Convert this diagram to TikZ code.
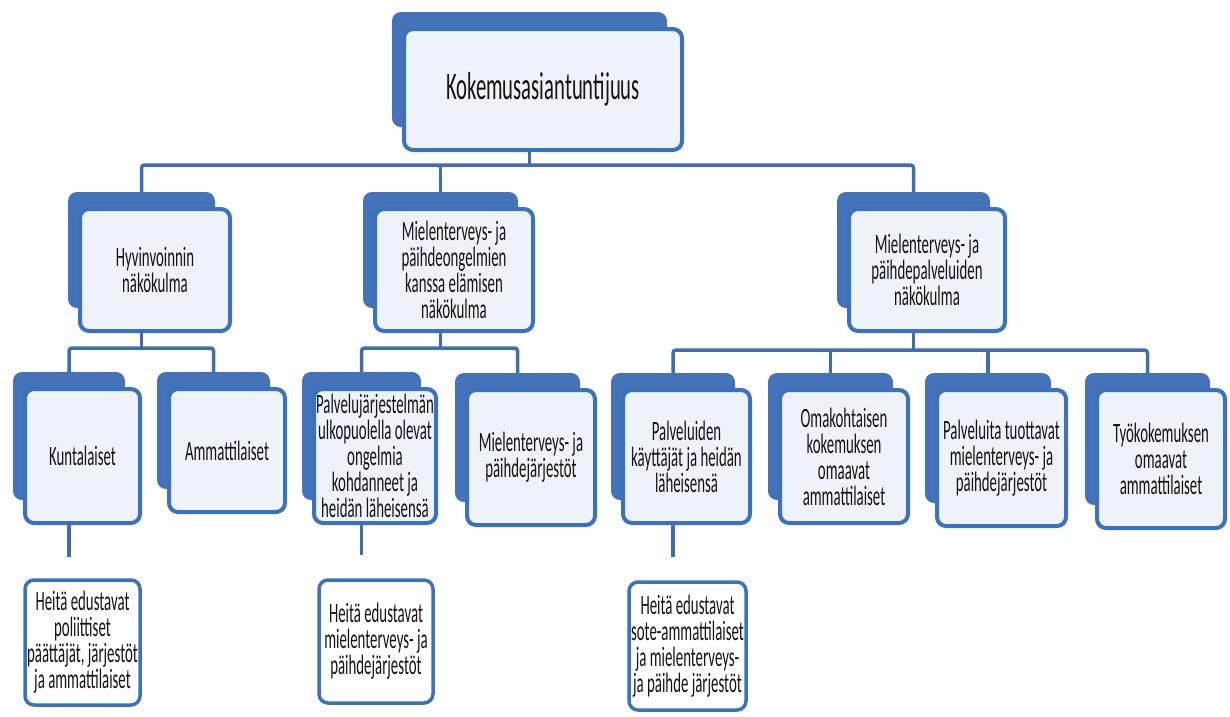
\documentclass[tikz,border=0pt]{standalone}
\usepackage{fontspec}
\setmainfont{Carlito}[FakeStretch=0.53]
\usetikzlibrary{calc,fit,backgrounds}
\definecolor{backblue}{HTML}{4473BA}
\definecolor{edgeblue}{HTML}{3B72BD}
\definecolor{facefill}{HTML}{EEF3FA}
\definecolor{linkblue}{HTML}{3F6DAF}
\definecolor{inkgray}{HTML}{141414}
\tikzset{
  card/.style={draw=edgeblue, line width=4pt, fill=facefill, rounded corners=9pt,
    align=center, inner sep=2pt, outer sep=0pt, text=inkgray,
    font=\fontsize{28}{26}\selectfont},
  leaf/.style={card, fill=white, line width=3.5pt},
  tab/.style={fill=backblue, rounded corners=9pt, inner sep=0pt, outer sep=0pt, draw=none},
  link/.style={draw=linkblue, line width=3.5pt, rounded corners=3pt},
}
\begin{document}
\begin{tikzpicture}[x=1pt, y=-1pt]
\useasboundingbox (0,0) rectangle (1230,716);

% front cards
\node[card, minimum width=278, minimum height=121, font=\fontsize{39}{40}\selectfont]
  (top) at (543,89.5) {Kokemusasiantuntijuus};

\node[card, minimum width=150, minimum height=122] (h) at (155,270) {Hyvinvoinnin\\näkökulma};
\node[card, minimum width=158, minimum height=122] (m) at (454,270)
  {Mielenterveys- ja\\päihdeongelmien\\kanssa elämisen\\näkökulma};
\node[card, minimum width=156, minimum height=122] (r) at (927,270)
  {Mielenterveys- ja\\päihdepalveluiden\\näkökulma};

\node[card, minimum width=115, minimum height=134] (k) at (82.5,456) {Kuntalaiset};
\node[card, minimum width=116, minimum height=123] (a) at (227,450.5) {Ammattilaiset};
\node[card, minimum width=122, minimum height=134] (pj) at (375,456)
  {Palvelujärjestelmän\\ulkopuolella olevat\\ongelmia\\kohdanneet ja\\heidän läheisensä};
\node[card, minimum width=128, minimum height=135] (mj) at (531,457.5)
  {Mielenterveys- ja\\päihdejärjestöt};
\node[card, minimum width=127, minimum height=133] (pk) at (686.5,456.5)
  {Palveluiden\\käyttäjät ja heidän\\läheisensä};
\node[card, minimum width=128, minimum height=133] (ok) at (844,456.5)
  {Omakohtaisen\\kokemuksen\\omaavat\\ammattilaiset};
\node[card, minimum width=129, minimum height=136] (pt) at (1001.5,458)
  {Palveluita tuottavat\\mielenterveys- ja\\päihdejärjestöt};
\node[card, minimum width=128, minimum height=138] (tk) at (1161,459)
  {Työkokemuksen\\omaavat\\ammattilaiset};

\node[leaf, minimum width=115, minimum height=125] (b1) at (82.5,642.5)
  {Heitä edustavat\\poliittiset\\päättäjät, järjestöt\\ja ammattilaiset};
\node[leaf, minimum width=114, minimum height=123] (b2) at (376,641.5)
  {Heitä edustavat\\mielenterveys- ja\\päihdejärjestöt};
\node[leaf, minimum width=117, minimum height=128] (b3) at (687.5,646)
  {Heitä edustavat\\sote-ammattilaiset\\ja mielenterveys-\\ja päihde järjestöt};

% white page and the darker tabs behind the cards
\begin{scope}[on background layer]
\fill[white] (0,0) rectangle (1230,716);
\foreach \n in {top,h,m,r,k,a,pj,mj,pk,ok,pt,tk}{
  \coordinate (\n-tl) at ($(\n.north west)+(-12,-17)$);
  \coordinate (\n-br) at ($(\n.south east)+(-15,-23)$);
  \node[tab, fit=(\n-tl)(\n-br)] (\n-b) {};
}
\end{scope}

% root to second level
\draw[link] (top-b.center |- top.south) -- (top-b.center |- 0,165);
\draw[link] (h-b.north) |- (r-b.north |- 0,165) -- (r-b.north);
\draw[link] (m-b.north) -- (m-b.north |- 0,165);

% second level to third level
\draw[link] (h-b.center |- h.south) -- (h-b.center |- 0,348);
\draw[link] (k-b.north) |- (a-b.north |- 0,348) -- (a-b.north);

\draw[link] (m-b.center |- m.south) -- (m-b.center |- 0,348);
\draw[link] (pj-b.north) |- (mj-b.north |- 0,348) -- (mj-b.north);

\draw[link] (r-b.center |- r.south) -- (r-b.center |- 0,350);
\draw[link] (pk-b.north) |- (tk-b.north |- 0,350) -- (tk-b.north);
\draw[link] (ok-b.north) -- (ok-b.north |- 0,350);
\draw[link] (pt-b.north) -- (pt-b.north |- 0,350);

% short stems above the bottom cards
\coordinate (k-stem) at (k-b.center |- 0,557);
\coordinate (pj-stem) at (pj-b.center |- 0,555);
\coordinate (pk-stem) at (pk-b.center |- 0,557);
\draw[link] (k-b.center |- k.south) -- (k-stem);
\draw[link] (pj-b.center |- pj.south) -- (pj-stem);
\draw[link] (pk-b.center |- pk.south) -- (pk-stem);
\end{tikzpicture}
\end{document}
